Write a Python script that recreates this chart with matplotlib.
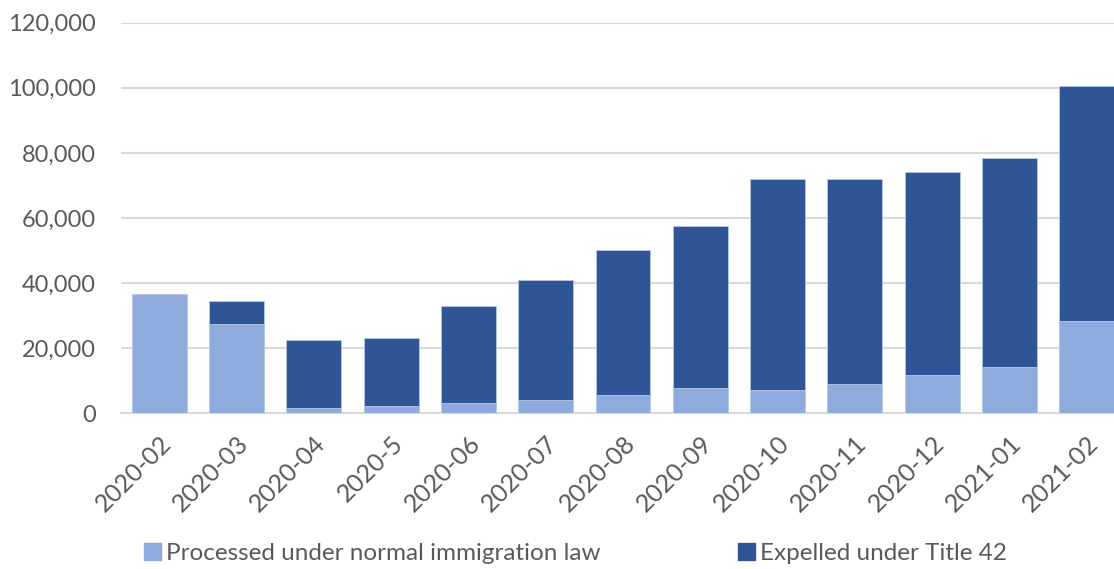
import matplotlib
matplotlib.use("Agg")
import matplotlib.pyplot as plt
from matplotlib.patches import Patch
from matplotlib.ticker import FuncFormatter

months = ["2020-02", "2020-03", "2020-04", "2020-5", "2020-06", "2020-07", "2020-08",
          "2020-09", "2020-10", "2020-11", "2020-12", "2021-01", "2021-02"]
processed = [36650, 27340, 1630, 2240, 3160, 4090, 5530, 7680, 7060, 8900, 11670, 14130, 28350]
totals = [36650, 34400, 22420, 23130, 33060, 40860, 50070, 57540, 71890, 72070, 74030, 78430, 100460]
expelled = [t - p for t, p in zip(totals, processed)]
series_names = ["Processed under normal immigration law", "Expelled under Title 42"]
yticks = [0, 20000, 40000, 60000, 80000, 100000, 120000]

light = "#8FAADC"
dark = "#2F5597"
grid = "#D9D9D9"
text = "#595959"

plt.rcParams['font.family'] = ['Lato', 'DejaVu Sans']

fig = plt.figure(figsize=(11.14, 5.69), dpi=100)
ax = fig.add_axes([0.1082, 0.2736, 0.902, 0.6865])

x = list(range(len(months)))
ax.bar(x, processed, width=0.71, color=light, edgecolor="#B4C7E7", linewidth=0.6, zorder=3)
ax.bar(x, expelled, bottom=processed, width=0.71, color=dark, edgecolor="#B4C7E7", linewidth=0.6, zorder=3)

ax.set_xlim(-0.5, len(months) - 0.5)
ax.set_ylim(0, 120000)
ax.set_yticks(yticks)
ax.yaxis.set_major_formatter(FuncFormatter(lambda v, p: f"{int(v):,}"))
ax.grid(axis="y", color=grid, linewidth=1.5, zorder=0)
ax.set_axisbelow(True)
for s in ["top", "right", "left"]:
    ax.spines[s].set_visible(False)
ax.spines["bottom"].set_color(grid)
ax.spines["bottom"].set_linewidth(1.5)
ax.tick_params(axis="y", length=0, colors=text, labelsize=17, pad=18)
ax.tick_params(axis="x", length=0, colors=text, labelsize=18, pad=13)
ax.set_xticks(x)
ax.set_xticklabels(months, rotation=45, ha="right", va="top", rotation_mode="anchor")
for lab in ax.get_yticklabels() + ax.get_xticklabels():
    lab.set_color(text)

handles = [Patch(color=light), Patch(color=dark)]
leg = fig.legend(handles, series_names, loc="center left", bbox_to_anchor=(0.110, 0.027),
                 ncol=2, frameon=False, fontsize=17.5, handlelength=0.7, handleheight=0.7,
                 handletextpad=0.2, columnspacing=5.65, labelcolor=text)

fig.savefig("out.png", dpi=100)
